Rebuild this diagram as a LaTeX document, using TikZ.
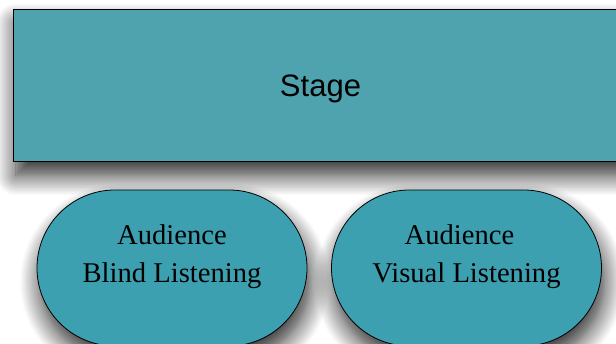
\documentclass[tikz,border=0pt]{standalone}
\usepackage{fontspec}
\setmainfont{Liberation Serif}
\newfontfamily\stagefont{Liberation Sans}
\definecolor{stageteal}{RGB}{79,163,175}
\definecolor{seatteal}{RGB}{60,160,177}
\usetikzlibrary{shapes.misc, shadows.blur, positioning}

\tikzset{
  dropshadow/.style={blur shadow={shadow xshift=3pt, shadow yshift=-14pt,
                     shadow blur radius=20pt, shadow blur steps=14,
                     shadow opacity=85}},
  stagebox/.style={rectangle, draw=black, line width=0.9pt, fill=stageteal,
                   inner sep=0pt, dropshadow},
  seatbox/.style={rounded rectangle, draw=black, line width=0.8pt,
                  fill=seatteal, minimum width=270pt, minimum height=156pt,
                  inner sep=0pt, dropshadow},
  seattext/.style={align=center, font=\fontsize{28.6}{38.5}\selectfont}
}

\begin{document}
\begin{tikzpicture}[x=1pt, y=1pt]
      \useasboundingbox (0,0) rectangle (616,344);
      \clip (0,0) rectangle (616,344);
      % Stage
      \node[stagebox, minimum width=615pt, minimum height=152pt,
            text depth=0pt, font=\stagefont\fontsize{31}{36}\selectfont]
        (stage) at (320.5,258.6) {Stage};
      % Audience
      \node[seatbox] (blind) at (172,76) {};
      \node[seatbox] (visual) at (466.5,76) {};
      \node[seattext] (blindtext) at ([yshift=11.5pt]blind.center)
        {Audience\\Blind Listening};
      \node[seattext] (visualtext) at ([yshift=11.5pt]visual.center)
        {Audience\kern14pt\\Visual Listening};
    \end{tikzpicture}
\end{document}
